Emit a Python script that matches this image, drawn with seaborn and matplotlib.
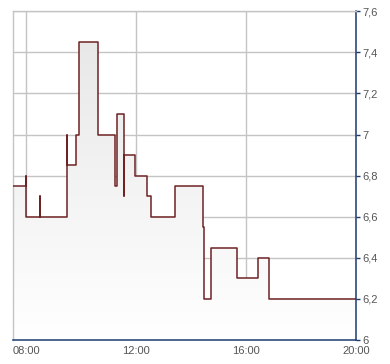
import numpy as np
import pandas as pd
import matplotlib
matplotlib.use("Agg")
import matplotlib.pyplot as plt
import seaborn as sns
from matplotlib.ticker import FixedLocator, FuncFormatter

# time in decimal hours, price (steps-post)
times = [7.53, 8.0, 8.005, 8.51, 8.515, 9.47, 9.50, 9.80, 9.905, 10.62, 11.24,
         11.31, 11.56, 11.565, 11.94, 12.40, 12.545, 13.42, 14.44, 14.47, 14.73,
         15.67, 16.44, 16.84, 20.0]
prices = [6.75, 6.8, 6.6, 6.70, 6.6, 7.0, 6.85, 7.0, 7.45, 7.0, 6.75,
          7.1, 6.70, 6.9, 6.8, 6.70, 6.6, 6.75, 6.55, 6.2, 6.45,
          6.3, 6.4, 6.2, 6.2]
x_ticks = [8, 12, 16, 20]
x_tick_labels = ["08:00", "12:00", "16:00", "20:00"]
y_ticks = [6.0, 6.2, 6.4, 6.6, 6.8, 7.0, 7.2, 7.4, 7.6]
y_tick_labels = ["6", "6,2", "6,4", "6,6", "6,8", "7", "7,2", "7,4", "7,6"]

df = pd.DataFrame({"t": times, "p": prices})

sns.set_style("white")
plt.rcParams["font.family"] = ["Liberation Sans", "DejaVu Sans"]

fig = plt.figure(figsize=(3.9, 3.64), dpi=100)
ax = fig.add_axes([13.3 / 390, 24 / 364, (356.3 - 13.3) / 390, (340 - 11.3) / 364])

xmin, xmax = 7.53, 20.0
ymin, ymax = 6.0, 7.6

# gradient fill under the step line
poly = ax.fill_between(df["t"], df["p"], ymin, step="post", color="none", lw=0)
grad = np.linspace(0, 1, 256).reshape(-1, 1)
cmap = matplotlib.colors.LinearSegmentedColormap.from_list("g", ["#ffffff", "#e6e6e6"])
img = ax.imshow(grad, extent=[xmin, xmax, ymin, ymax], origin="lower", aspect="auto",
                cmap=cmap, zorder=1)
path = poly.get_paths()[0]
img.set_clip_path(path, transform=ax.transData)

sns.lineplot(data=df, x="t", y="p", ax=ax, drawstyle="steps-post", estimator=None,
             color="#6e2224", lw=1.1, zorder=3)

ax.set_xlim(xmin, xmax)
ax.set_ylim(ymin, ymax)
ax.xaxis.set_major_locator(FixedLocator(x_ticks))
ax.set_xticklabels(x_tick_labels)
ax.yaxis.set_major_locator(FixedLocator(y_ticks))
ax.set_yticklabels(y_tick_labels)
ax.yaxis.tick_right()
ax.grid(True, color="#c4c4c4", lw=1, zorder=0)
ax.set_axisbelow(True)
ax.set_xlabel("")
ax.set_ylabel("")

for s in ["top", "left"]:
    ax.spines[s].set_color("#c4c4c4")
    ax.spines[s].set_linewidth(1)
for s in ["bottom", "right"]:
    ax.spines[s].set_color("#1c3a6e")
    ax.spines[s].set_linewidth(1.1)

ax.tick_params(axis="both", colors="#1c3a6e", length=3, width=1, labelsize=8,
               labelcolor="#555555", pad=1.5)
ax.tick_params(axis="y", right=True, left=False)

fig.savefig("out.png", dpi=100)
